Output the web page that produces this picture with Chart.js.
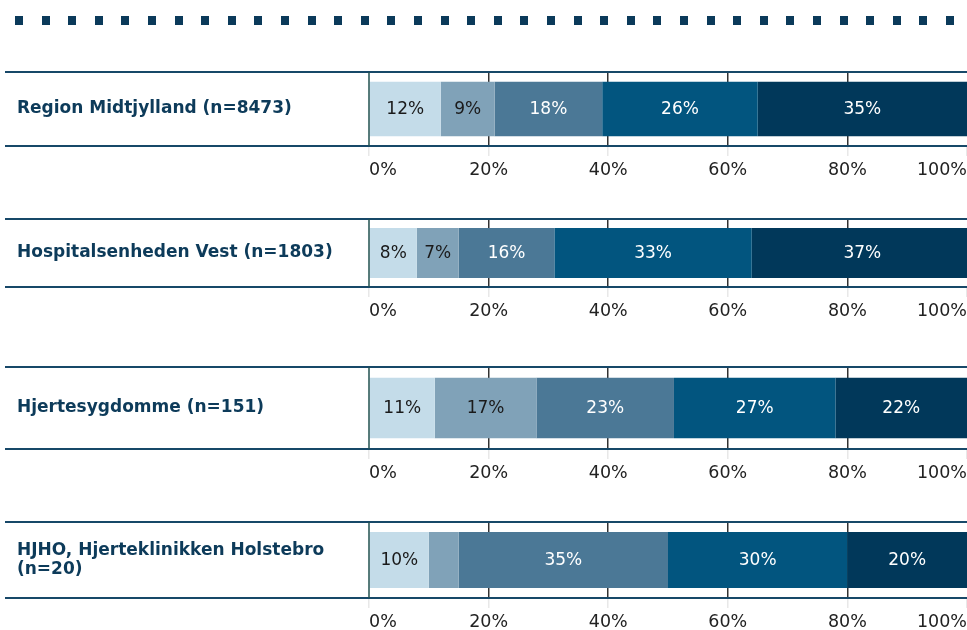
<!DOCTYPE html>
<html>
<head>
<meta charset="utf-8">
<script src="https://cdn.jsdelivr.net/npm/chart.js@4.4.0/dist/chart.umd.min.js"></script>
<style>
  body { margin: 0; background: #fff; width: 967px; height: 630px; overflow: hidden; position: relative; }
  .prikker { position: absolute; left: 15px; top: 16px; width: 952px; height: 9px;
    background: repeating-linear-gradient(to right, #0b3a5a 0, #0b3a5a 8px, transparent 8px, transparent 26.6px); }
  canvas { position: absolute; left: 0; }
</style>
</head>
<body>
<div class="prikker"></div>
<canvas id="c0"></canvas>
<canvas id="c1"></canvas>
<canvas id="c2"></canvas>
<canvas id="c3"></canvas>
<script>
// grupper (en bar pr. graf)
const grupper = [
  'Region Midtjylland (n=8473)',
  'Hospitalsenheden Vest (n=1803)',
  'Hjertesygdomme (n=151)',
  ['HJHO, Hjerteklinikken Holstebro', '(n=20)']
];
// andele i procent, en liste pr. svarkategori
const andel1 = [12, 8, 11, 10];
const andel2 = [9, 7, 17, 5];
const andel3 = [18, 16, 23, 35];
const andel4 = [26, 33, 27, 30];
const andel5 = [35, 37, 22, 20];
const xTicks = [0, 20, 40, 60, 80, 100];

const serier = [andel1, andel2, andel3, andel4, andel5];
const farver = ['#c4dce9', '#80a2b8', '#4b7896', '#02557f', '#01385a'];
const tekstFarver = ['#1a1a1a', '#1a1a1a', '#ffffff', '#ffffff', '#ffffff'];

// placering af hver graf (top- og bundlinje)
const rammeTop = [72, 219, 367, 522];
const rammeBund = [146, 287, 449, 598];
const aksehoejde = 40;

const fontFam = "'DejaVu Sans', Verdana, sans-serif";

// tegner procenttal midt i hvert stykke
const vaerdiLabels = {
  id: 'vaerdiLabels',
  afterDatasetsDraw(chart) {
    const ctx = chart.ctx;
    ctx.save();
    ctx.font = '17px ' + fontFam;
    ctx.textAlign = 'center';
    ctx.textBaseline = 'middle';
    chart.data.datasets.forEach((ds, i) => {
      chart.getDatasetMeta(i).data.forEach((bar, j) => {
        const w = Math.abs(bar.x - bar.base);
        if (w < 36) return; // for smal til tekst
        ctx.fillStyle = tekstFarver[i];
        ctx.fillText(ds.data[j] + '%', (bar.x + bar.base) / 2, bar.y + 1);
      });
    });
    ctx.restore();
  }
};

// linjer over og under samt lodret linje ved 0%
const rammer = {
  id: 'rammer',
  afterDraw(chart) {
    const ctx = chart.ctx;
    const a = chart.chartArea;
    ctx.save();
    ctx.strokeStyle = '#174868';
    ctx.lineWidth = 2;
    ctx.beginPath();
    ctx.moveTo(5, a.top); ctx.lineTo(chart.width, a.top);
    ctx.moveTo(5, a.bottom); ctx.lineTo(chart.width, a.bottom);
    ctx.stroke();
    ctx.strokeStyle = '#21504f';
    ctx.lineWidth = 1.5;
    ctx.beginPath();
    ctx.moveTo(a.left, a.top); ctx.lineTo(a.left, a.bottom);
    ctx.stroke();
    ctx.restore();
  }
};

function lavGraf(i) {
  const canvas = document.getElementById('c' + i);
  const h = rammeBund[i] - rammeTop[i] + 2 + aksehoejde;
  canvas.style.top = (rammeTop[i] - 2) + 'px';
  canvas.style.width = '967px';
  canvas.style.height = h + 'px';
  canvas.width = 967;
  canvas.height = h;

  new Chart(canvas.getContext('2d'), {
    type: 'bar',
    data: {
      labels: [grupper[i]],
      datasets: serier.map((s, k) => ({
        label: 'Kategori ' + (k + 1),
        data: [s[i]],
        backgroundColor: farver[k],
        borderWidth: 0,
        categoryPercentage: 0.82,
        barPercentage: 0.9
      }))
    },
    options: {
      indexAxis: 'y',
      responsive: false,
      animation: false,
      events: [],
      layout: { autoPadding: false, padding: { top: 2, left: 17, right: 0, bottom: 0 } },
      plugins: { legend: { display: false }, tooltip: { enabled: false } },
      scales: {
        x: {
          stacked: true,
          min: 0,
          max: 100,
          afterBuildTicks: (scale) => { scale.ticks = xTicks.map(v => ({ value: v })); },
          afterFit: (scale) => {
            scale.height = aksehoejde;
            scale.paddingLeft = 0;
            scale.paddingRight = 0;
          },
          border: { display: false },
          grid: {
            color: (c) => (c.tick && (c.tick.value === 0 || c.tick.value === 100)) ? 'rgba(0,0,0,0)' : '#333333',
            lineWidth: 1.5,
            tickColor: '#e8e8e8',
            tickLength: 10
          },
          ticks: {
            align: 'inner',
            padding: 4,
            color: '#222222',
            font: { family: fontFam, size: 17.5 },
            callback: (v) => v + '%'
          }
        },
        y: {
          stacked: true,
          afterFit: (scale) => {
            scale.width = 352;
            scale.paddingTop = 0;
            scale.paddingBottom = 0;
          },
          border: { display: false },
          grid: { display: false },
          ticks: {
            crossAlign: 'far',
            color: '#0d3b5a',
            font: { family: fontFam, size: 17, weight: 'bold', lineHeight: 1.1 }
          }
        }
      }
    },
    plugins: [vaerdiLabels, rammer]
  });
}

for (let i = 0; i < grupper.length; i++) {
  lavGraf(i);
}
</script>
</body>
</html>
